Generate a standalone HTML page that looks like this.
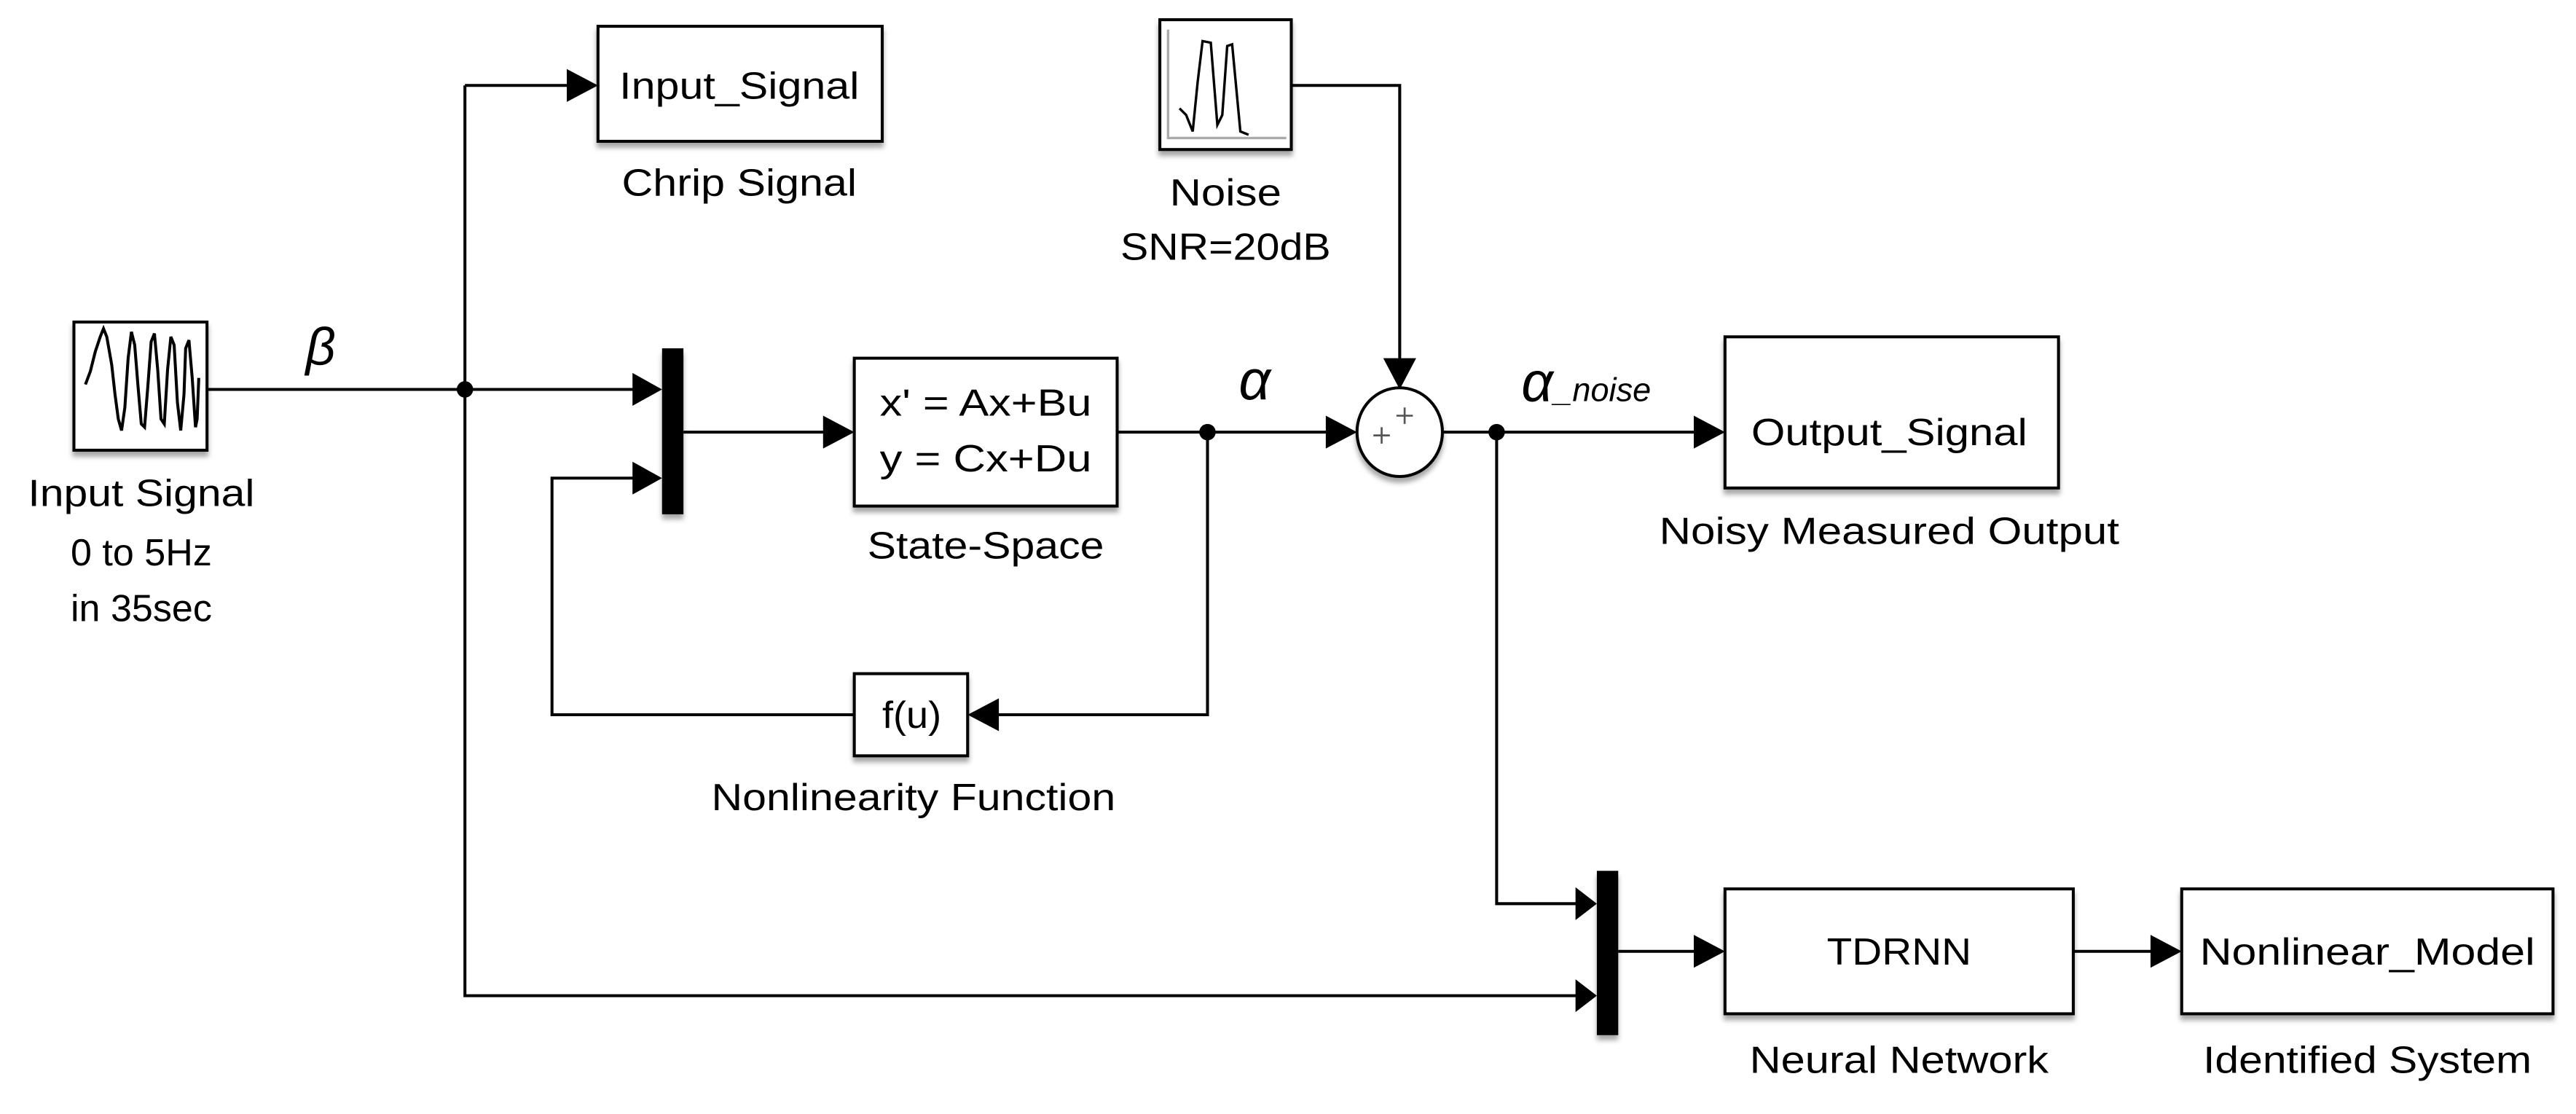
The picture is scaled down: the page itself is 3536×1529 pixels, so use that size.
<!DOCTYPE html>
<html><head><meta charset="utf-8"><style>
html,body{margin:0;padding:0;background:#fff;}
svg{display:block;}
text{font-family:"Liberation Sans",sans-serif;fill:#000;}
</style></head><body>
<svg width="3536" height="1529" viewBox="0 0 1568 678" preserveAspectRatio="none" xmlns="http://www.w3.org/2000/svg">
<defs>
<filter id="sh" x="-10%" y="-10%" width="130%" height="130%"><feDropShadow dx="0" dy="3" stdDeviation="1.5" flood-color="#000" flood-opacity="0.35"/></filter>
</defs>
<g stroke="#000" stroke-width="1.8" fill="none">
<polyline points="126,237 283,237"/>
<polyline points="283,52 283,606 962,606"/>
<polyline points="283,52 348,52"/>
<polyline points="283,237 388,237"/>
<polyline points="416,263 504,263"/>
<polyline points="680,263 810,263"/>
<polyline points="786,52 852,52 852,222"/>
<polyline points="735,263 735,435 606,435"/>
<polyline points="520,435 336,435 336,291 388,291"/>
<polyline points="878,263 1034,263"/>
<polyline points="911,263 911,550 962,550"/>
<polyline points="985,579 1034,579"/>
<polyline points="1262,579 1312,579"/>
</g>
<g fill="#000">
<polygon points="345,42 345,62 364,52"/>
<polygon points="385,227 385,247 403,237"/>
<polygon points="385,281 385,301 403,291"/>
<polygon points="501,253 501,273 520,263"/>
<polygon points="807,253 807,273 826,263"/>
<polygon points="842,218 862,218 852,237"/>
<polygon points="608,425 608,445 589,435"/>
<polygon points="1031,253 1031,273 1050,263"/>
<polygon points="959,540 959,560 972,550"/>
<polygon points="959,596 959,616 972,606"/>
<polygon points="1031,569 1031,589 1050,579"/>
<polygon points="1309,569 1309,589 1328,579"/>
<circle cx="283" cy="237" r="5"/>
<circle cx="735" cy="263" r="5"/>
<circle cx="911" cy="263" r="5"/>
</g>
<g fill="#fff" stroke="#000" stroke-width="1.8" filter="url(#sh)">
<rect x="45" y="196" width="81" height="78"/>
<rect x="364" y="16" width="173" height="70"/>
<rect x="706" y="12" width="80" height="79"/>
<rect x="520" y="218" width="160" height="90"/>
<ellipse cx="852" cy="263" rx="26" ry="27"/>
<rect x="520" y="410" width="69" height="50"/>
<rect x="1050" y="205" width="203" height="92"/>
<rect x="1050" y="541" width="212" height="76"/>
<rect x="1328" y="541" width="226" height="76"/>
</g>
<g fill="#000" filter="url(#sh)">
<rect x="403" y="212" width="13" height="101"/>
<rect x="972" y="530" width="13" height="100"/>
</g>
<polyline fill="none" stroke="#000" stroke-width="1.8" points="52,234 55,226 58,214 61,205 63,200 65,205 68,222 70,240 72,255 74,262 76,248 78,218 80,202 82,210 84,235 86,258 88,260 90,235 92,208 94,203 96,225 98,255 100,258 102,225 104,205 106,210 108,245 110,262 112,240 113,212 115,207 117,230 119,260 120,255 121,230"/>
<polyline fill="none" stroke="#aaa" stroke-width="1.5" points="711,18 711,84 783,84"/>
<polyline fill="none" stroke="#000" stroke-width="1.5" points="718,66 722,70 726,80 729,50 732,25 737,26 741,76 744,70 747,28 750,27 755,80 760,82"/>
<g stroke="#555" stroke-width="1.2">
<line x1="850" y1="253" x2="860" y2="253"/><line x1="855" y1="248" x2="855" y2="258"/>
<line x1="836" y1="265" x2="846" y2="265"/><line x1="841" y1="260" x2="841" y2="270"/>
</g>
<g font-size="23" text-anchor="middle">
<text x="450" y="60" textLength="146" lengthAdjust="spacingAndGlyphs">Input_Signal</text>
<text x="450" y="119" textLength="143" lengthAdjust="spacingAndGlyphs">Chrip Signal</text>
<text x="746" y="125" textLength="68" lengthAdjust="spacingAndGlyphs">Noise</text>
<text x="746" y="158" textLength="128" lengthAdjust="spacingAndGlyphs">SNR=20dB</text>
<text x="86" y="308" textLength="138" lengthAdjust="spacingAndGlyphs">Input Signal</text>
<text x="86" y="344" textLength="86" lengthAdjust="spacingAndGlyphs">0 to 5Hz</text>
<text x="86" y="378" textLength="86" lengthAdjust="spacingAndGlyphs">in 35sec</text>
<text x="600" y="253" textLength="129" lengthAdjust="spacingAndGlyphs">x' = Ax+Bu</text>
<text x="600" y="287" textLength="129" lengthAdjust="spacingAndGlyphs">y = Cx+Du</text>
<text x="600" y="340" textLength="144" lengthAdjust="spacingAndGlyphs">State-Space</text>
<text x="555" y="443" textLength="36" lengthAdjust="spacingAndGlyphs">f(u)</text>
<text x="556" y="493" textLength="246" lengthAdjust="spacingAndGlyphs">Nonlinearity Function</text>
<text x="1150" y="271" textLength="168" lengthAdjust="spacingAndGlyphs">Output_Signal</text>
<text x="1150" y="331" textLength="280" lengthAdjust="spacingAndGlyphs">Noisy Measured Output</text>
<text x="1156" y="587" textLength="88" lengthAdjust="spacingAndGlyphs">TDRNN</text>
<text x="1156" y="653" textLength="182" lengthAdjust="spacingAndGlyphs">Neural Network</text>
<text x="1441" y="587" textLength="204" lengthAdjust="spacingAndGlyphs">Nonlinear_Model</text>
<text x="1441" y="653" textLength="200" lengthAdjust="spacingAndGlyphs">Identified System</text>
</g>
<g font-style="italic">
<text x="186" y="222" font-size="32">β</text>
<text x="754" y="243" font-size="34">α</text>
<text x="926" y="244" font-size="34">α</text>
<text x="946" y="244" font-size="20">_noise</text>
</g>
</svg>
</body></html>
